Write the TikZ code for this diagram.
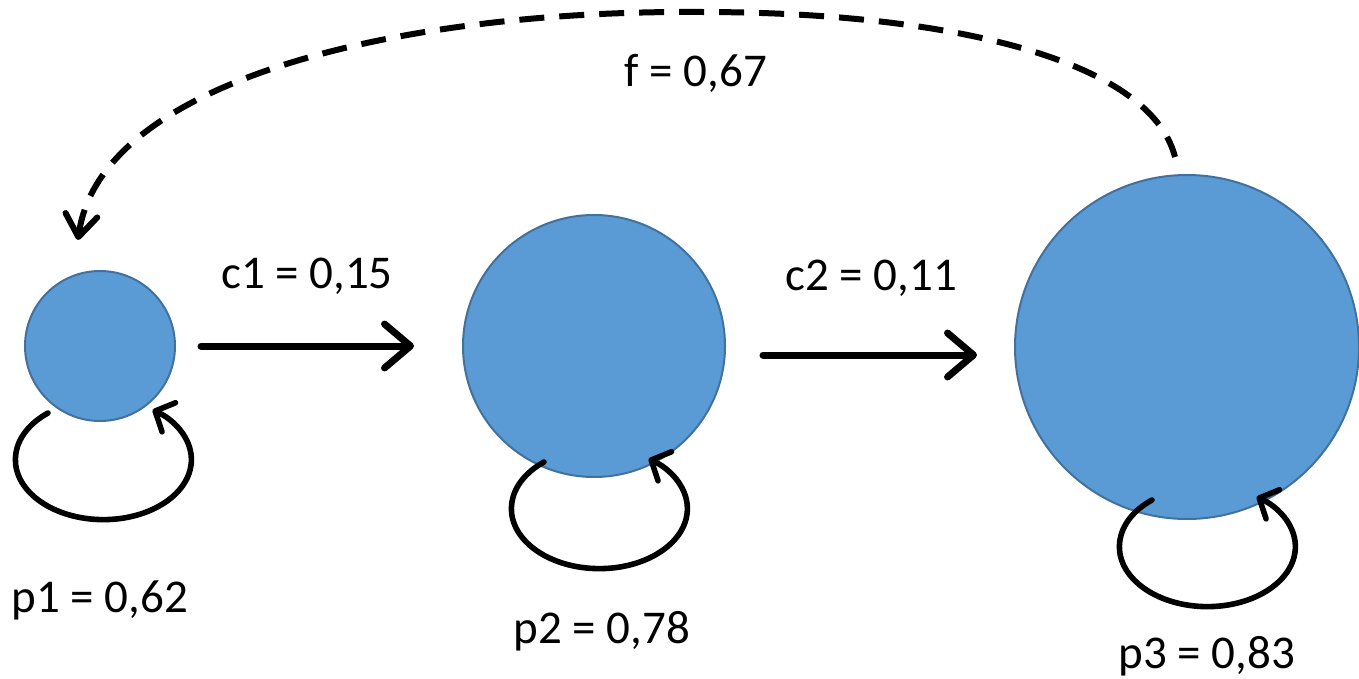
\documentclass[tikz,border=0pt]{standalone}
\usepackage{fontspec}
\setmainfont{Carlito}
\usetikzlibrary{arrows.meta,calc}
\definecolor{fillblue}{HTML}{5B9BD5}
\definecolor{edgeblue}{HTML}{41719C}
\begin{document}
\begin{tikzpicture}[x=0.5pt,y=-0.5pt,
  state/.style={circle,draw=edgeblue,fill=fillblue,line width=1pt,inner sep=0pt},
  lbl/.style={anchor=base,font=\fontsize{23.5pt}{28pt}\selectfont,inner sep=0pt},
  trans/.style={line width=3.5pt,line cap=round,-{Straight Barb[length=13pt,width=22pt,round]}},
  selfloop/.style={line width=2.8pt,line cap=round,-{Straight Barb[length=7.5pt,width=16pt,round]}},
  feedback/.style={line width=3pt,dash pattern=on 12.5pt off 7.5pt,{Straight Barb[length=11pt,width=16pt,round]}-}
]
\useasboundingbox (0,0) rectangle (1359,679);
\node[state,minimum size=75pt] (n1) at (100,346) {};
\node[state,minimum size=131pt] (n2) at (594,346) {};
\node[state,minimum size=172pt] (n3) at (1187,347) {};
% transitions
\draw[trans,shorten <=12.5pt,shorten >=24pt] (n1) -- (n2);
\draw[trans] ($(n2.east)+(37,9)$) -- ($(n3.west)+(-37,8)$);
% self loops
\draw[selfloop] ($(n1.center)+(-52,67)$) arc[start angle=231,end angle=-56,x radius=88,y radius=60];
\draw[selfloop] ($(n2.center)+(-50,116)$) arc[start angle=231,end angle=-56,x radius=88,y radius=60];
\draw[selfloop] ($(n3.center)+(-35,153)$) arc[start angle=231,end angle=-56,x radius=88,y radius=60];
% feedback
\coordinate (top) at (700,12);
\draw[feedback] ($(n1.north)+(-22,-30)$) .. controls (100,80) and (400,10) .. (top) .. controls (950,12) and (1150,60) .. ($(n3.north)+(-12,-17)$);
% labels
\node[lbl] (lc1) at (307,288) {c1 = 0,15};
\node[lbl] (lc2) at (871,291) {c2 = 0,11};
\node[lbl] (lf) at (696,87) {f = 0,67};
\node[lbl] (lp1) at (100,612) {p1 = 0,62};
\node[lbl] (lp2) at (602,643) {p2 = 0,78};
\node[lbl] (lp3) at (1207,668) {p3 = 0,83};
\end{tikzpicture}
\end{document}
